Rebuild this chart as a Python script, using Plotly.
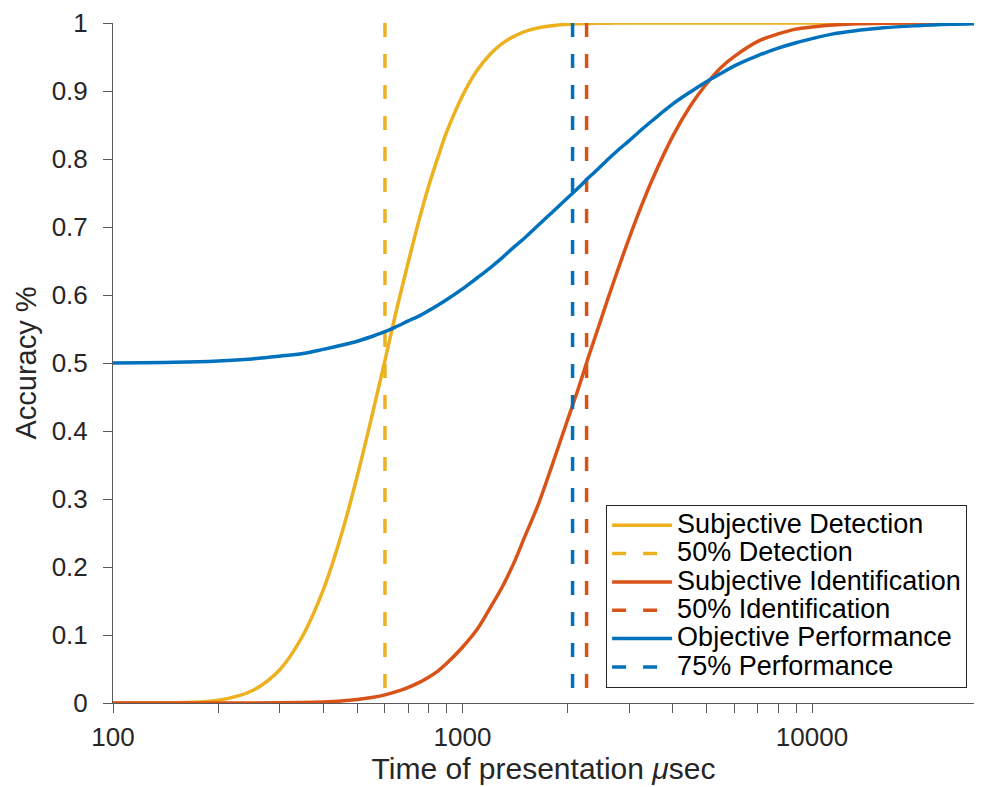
import plotly.graph_objects as go

# ---------------- data ----------------
time_us = [100, 150, 200, 250, 300, 350, 400, 450, 500, 550,
           600, 650, 700, 750, 800, 850, 900, 1000, 1100, 1200,
           1300, 1400, 1500, 1650, 1800, 2000, 2150, 2300, 2450, 2600,
           2800, 3000, 3250, 3500, 4000, 4500, 5000, 5500, 6000, 7000,
           8000, 9000, 10000, 11500, 13000, 16000, 20000, 25000, 30000]

subjective_detection = [0.0, 0.0004, 0.004, 0.018, 0.049, 0.100, 0.167, 0.247, 0.334, 0.421,
                        0.504, 0.582, 0.649, 0.709, 0.760, 0.802, 0.839, 0.893, 0.930, 0.954,
                        0.970, 0.980, 0.987, 0.993, 0.996, 0.998, 0.999, 0.9994, 0.9997, 0.9998,
                        1.0, 1.0, 1.0, 1.0, 1.0, 1.0, 1.0, 1.0, 1.0, 1.0,
                        1.0, 1.0, 1.0, 1.0, 1.0, 1.0, 1.0, 1.0, 1.0]

subjective_identification = [0.0, 0.0, 0.0, 0.0001, 0.0003, 0.0007, 0.0016, 0.003, 0.005, 0.008,
                             0.012, 0.017, 0.023, 0.030, 0.038, 0.047, 0.058, 0.082, 0.108, 0.140,
                             0.171, 0.205, 0.242, 0.293, 0.348, 0.417, 0.464, 0.511, 0.553, 0.593,
                             0.641, 0.684, 0.731, 0.771, 0.834, 0.879, 0.911, 0.935, 0.951, 0.973,
                             0.984, 0.991, 0.994, 0.997, 0.9985, 0.9996, 0.9999, 1.0, 1.0]

objective_performance = [0.500, 0.501, 0.503, 0.506, 0.510, 0.514, 0.520, 0.526, 0.532, 0.539,
                         0.546, 0.554, 0.562, 0.569, 0.577, 0.585, 0.593, 0.609, 0.625, 0.640,
                         0.655, 0.670, 0.683, 0.703, 0.721, 0.743, 0.758, 0.773, 0.786, 0.799,
                         0.814, 0.827, 0.843, 0.857, 0.881, 0.899, 0.914, 0.926, 0.937, 0.952,
                         0.963, 0.971, 0.977, 0.984, 0.988, 0.993, 0.996, 0.998, 0.999]

detection_50 = 600
identification_50 = 2265
performance_75 = 2065
threshold_span = [1, 0]

series_names = ["Subjective Detection", "50% Detection",
                "Subjective Identification", "50% Identification",
                "Objective Performance", "75% Performance"]

x_tickvals = [100, 200, 300, 400, 500, 600, 700, 800, 900,
              1000, 2000, 3000, 4000, 5000, 6000, 7000, 8000, 9000, 10000]
x_ticktext = ["100", "", "", "", "", "", "", "", "",
              "1000", "", "", "", "", "", "", "", "", "10000"]
y_tickvals = [0, 0.1, 0.2, 0.3, 0.4, 0.5, 0.6, 0.7, 0.8, 0.9, 1]
y_ticktext = ["0", "0.1", "0.2", "0.3", "0.4", "0.5", "0.6", "0.7", "0.8", "0.9", "1"]

# ---------------- styling ----------------
YELLOW = "#EDB120"
RED = "#D95319"
BLUE = "#0072BD"
FONT = "Liberation Sans, Arial, Helvetica, sans-serif"
AXIS = "#5a5a5a"
TXT = "#262626"
LW = 3.5
DASH = "14px,17px"


def legend_label(text):
    return '<span style="font-size:27px">' + text + '</span>'


fig = go.Figure()

fig.add_trace(go.Scatter(x=time_us, y=subjective_detection, mode="lines",
                         name=legend_label(series_names[0]),
                         line=dict(color=YELLOW, width=LW, shape="spline", smoothing=1)))
fig.add_trace(go.Scatter(x=[detection_50, detection_50], y=threshold_span, mode="lines",
                         name=legend_label(series_names[1]),
                         line=dict(color=YELLOW, width=LW, dash=DASH)))
fig.add_trace(go.Scatter(x=time_us, y=subjective_identification, mode="lines",
                         name=legend_label(series_names[2]),
                         line=dict(color=RED, width=LW, shape="spline", smoothing=1)))
fig.add_trace(go.Scatter(x=[identification_50, identification_50], y=threshold_span,
                         mode="lines", name=legend_label(series_names[3]),
                         line=dict(color=RED, width=LW, dash=DASH)))
fig.add_trace(go.Scatter(x=time_us, y=objective_performance, mode="lines",
                         name=legend_label(series_names[4]),
                         line=dict(color=BLUE, width=LW, shape="spline", smoothing=1)))
fig.add_trace(go.Scatter(x=[performance_75, performance_75], y=threshold_span,
                         mode="lines", name=legend_label(series_names[5]),
                         line=dict(color=BLUE, width=LW, dash=DASH)))

xrange = [2, 4.4635]
yrange = [0, 1]

fig.update_layout(
    width=984, height=787,
    margin=dict(l=113, r=10, t=23, b=84),
    paper_bgcolor="white", plot_bgcolor="white",
    font=dict(family=FONT, color=TXT),
    showlegend=True,
    legend=dict(x=0.992, y=0.022, xanchor="right", yanchor="bottom",
                bgcolor="white", bordercolor="#262626", borderwidth=1,
                font=dict(family=FONT, size=19.5, color="black"),
                itemwidth=60, tracegroupgap=0),
    xaxis=dict(type="log", range=xrange, showgrid=False, zeroline=False,
               automargin=False,
               showline=True, linecolor=AXIS, linewidth=1,
               ticks="outside", ticklen=9, tickwidth=1, tickcolor=AXIS,
               tickvals=x_tickvals, ticktext=x_ticktext,
               tickfont=dict(family=FONT, size=26, color=TXT),
               ticklabelstandoff=2,
               title=dict(text="Time of presentation <i>μ</i>sec",
                          font=dict(family=FONT, size=30, color=TXT), standoff=2)),
    yaxis=dict(range=yrange, showgrid=False, zeroline=False,
               automargin=False,
               showline=True, linecolor=AXIS, linewidth=1,
               ticks="outside", ticklen=9, tickwidth=1, tickcolor=AXIS,
               tickvals=y_tickvals, ticktext=y_ticktext,
               tickfont=dict(family=FONT, size=26, color=TXT),
               ticklabelstandoff=10,
               title=dict(text="Accuracy %",
                          font=dict(family=FONT, size=29, color=TXT), standoff=6)),
    xaxis2=dict(type="log", overlaying="x", matches="x", anchor="y", side="bottom",
                range=xrange, showgrid=False, zeroline=False, showline=False,
                automargin=False,
                ticks="inside", ticklen=9, tickwidth=1, tickcolor=AXIS,
                tickvals=x_tickvals, showticklabels=False),
    yaxis2=dict(overlaying="y", matches="y", anchor="x", side="left",
                range=yrange, showgrid=False, zeroline=False, showline=False,
                automargin=False,
                ticks="inside", ticklen=9, tickwidth=1, tickcolor=AXIS,
                tickvals=y_tickvals, showticklabels=False),
)

fig.write_html("out.html")
